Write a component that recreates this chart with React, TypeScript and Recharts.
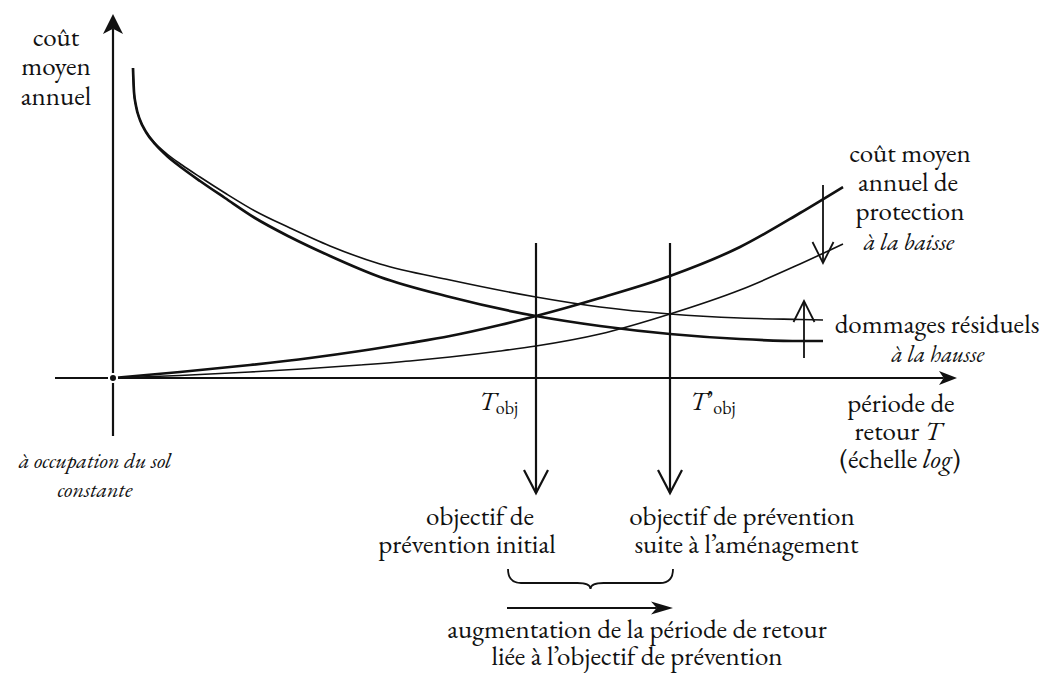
import React from 'react';
import { ComposedChart, Line, XAxis, YAxis, ReferenceLine, ReferenceDot } from 'recharts';

// Conceptual units: x = return period T (log scale), y = mean annual cost.
// Residual damages (decreasing with T)
const damageX = [2.0, 2.1, 2.3, 2.7, 3.3, 4.2, 5.4, 6.9, 8.7, 11.2, 14.2, 17.7, 21.7, 26.7, 33.7, 42.3, 48.7, 55.7, 62.7, 68.7, 71.0];
const damageInitial = [31.0, 28.6, 27.2, 25.8, 24.6, 23.4, 22.2, 21.0, 19.7, 18.0, 16.0, 14.1, 12.2, 10.1, 8.1, 6.2, 5.2, 4.4, 3.9, 3.7, 3.7];
const damageRaised = [31.0, 28.6, 27.2, 25.8, 24.6, 23.5, 22.4, 21.3, 20.1, 18.5, 16.7, 15.0, 13.2, 11.4, 9.8, 8.1, 7.1, 6.4, 6.0, 5.85, 5.8];
// Protection cost (increasing with T)
const protectionX = [0, 6.7, 13.7, 19.7, 24.7, 29.7, 33.7, 38.7, 42.3, 48.7, 55.7, 62.7, 68.7, 73.0];
const protectionInitial = [0, 0.6, 1.3, 2.0, 2.7, 3.5, 4.2, 5.3, 6.2, 8.0, 10.2, 13.1, 16.5, 19.1];
const protectionLowered = [0, 0.25, 0.6, 0.95, 1.3, 1.7, 2.1, 2.7, 3.2, 4.4, 6.4, 8.8, 11.4, 13.4];

// Objectives (return periods)
const T_OBJ = 42.3;
const T_OBJ_NEW = 55.7;

const X_DOMAIN: [number, number] = [-11.3, 93.1];
const Y_DOMAIN: [number, number] = [-29.7, 37.8];

const FONT = '"EB Garamond"';
const INK = '#111';

const toPts = (xs: number[], ys: number[]) => xs.map((x, i) => ({ x, y: ys[i] }));

type Part = { t: string; italic?: boolean; sub?: boolean };
type Label = { x: number; y: number; parts: Part[]; anchor?: 'start' | 'middle' | 'end'; size?: number };

const UP = 27;
const IT = 23;

const labels: Label[] = [
  { x: -5.7, y: 33.2, parts: [{ t: 'coût' }] },
  { x: -5.7, y: 30.3, parts: [{ t: 'moyen' }] },
  { x: -5.7, y: 27.3, parts: [{ t: 'annuel' }] },
  { x: 79.7, y: 21.6, parts: [{ t: 'coût moyen' }] },
  { x: 79.5, y: 18.7, parts: [{ t: 'annuel de' }] },
  { x: 79.7, y: 15.8, parts: [{ t: 'protection' }] },
  { x: 79.6, y: 12.8, parts: [{ t: 'à la baisse', italic: true }], size: 24 },
  { x: 82.4, y: 4.5, parts: [{ t: 'dommages résiduels' }] },
  { x: 82.5, y: 1.6, parts: [{ t: 'à la hausse', italic: true }], size: IT },
  { x: 78.8, y: -3.4, parts: [{ t: 'période de' }] },
  { x: 78.5, y: -6.2, parts: [{ t: 'retour ' }, { t: 'T', italic: true }] },
  { x: 78.7, y: -9.0, parts: [{ t: '(échelle ' }, { t: 'log', italic: true }, { t: ')' }] },
  { x: 36.6, y: -3.2, parts: [{ t: 'T', italic: true }, { t: 'obj', sub: true }], anchor: 'start' },
  { x: 57.7, y: -3.2, parts: [{ t: 'T', italic: true }, { t: '’' }, { t: 'obj', sub: true }], anchor: 'start' },
  { x: 36.7, y: -14.7, parts: [{ t: 'objectif de' }] },
  { x: 35.4, y: -17.5, parts: [{ t: 'prévention initial' }] },
  { x: 62.9, y: -14.7, parts: [{ t: 'objectif de prévention' }] },
  { x: 63.35, y: -17.5, parts: [{ t: 'suite à l’aménagement' }] },
  { x: 52.4, y: -26.0, parts: [{ t: 'augmentation de la période de retour' }] },
  { x: 52.4, y: -28.7, parts: [{ t: 'liée à l’objectif de prévention' }] },
  { x: -1.8, y: -9.0, parts: [{ t: 'à occupation du sol', italic: true }], size: 22 },
  { x: -1.8, y: -11.9, parts: [{ t: 'constante', italic: true }], size: 22 },
];

const labelShape = (lab: Label) => (props: any) => {
  const { cx, cy } = props;
  const size = lab.size ?? UP;
  return (
    <text
      x={cx}
      y={cy}
      textAnchor={lab.anchor ?? 'middle'}
      fontFamily={FONT}
      style={{ fontFamily: FONT, fontSize: size }}
      fill={INK}
    >
      {lab.parts.map((p, i) => (
        <tspan
          key={i}
          style={{
            fontFamily: FONT,
            fontStyle: p.italic ? 'italic' : 'normal',
            fontSize: p.sub ? 18 : size,
          }}
          dy={p.sub ? 4 : undefined}
        >
          {p.t}
        </tspan>
      ))}
    </text>
  );
};

type Head = 'open' | 'solid';
const arrowShape = (head: Head, len: number, half: number, width: number) => (props: any) => {
  const { x1, y1, x2, y2 } = props;
  const dx = x2 - x1;
  const dy = y2 - y1;
  const L = Math.hypot(dx, dy) || 1;
  const ux = dx / L;
  const uy = dy / L;
  const px = -uy;
  const py = ux;
  const bx = x2 - ux * len;
  const by = y2 - uy * len;
  if (head === 'open') {
    return (
      <g>
        <line x1={x1} y1={y1} x2={x2} y2={y2} stroke={INK} strokeWidth={width} />
        <path
          d={`M${bx + px * half},${by + py * half} L${x2},${y2} L${bx - px * half},${by - py * half}`}
          fill="none"
          stroke={INK}
          strokeWidth={width}
          strokeLinejoin="miter"
        />
      </g>
    );
  }
  const nx = x2 - ux * len * 0.74;
  const ny = y2 - uy * len * 0.74;
  return (
    <g>
      <line x1={x1} y1={y1} x2={nx} y2={ny} stroke={INK} strokeWidth={width} />
      <path
        d={`M${x2},${y2} L${bx + px * half},${by + py * half} L${nx},${ny} L${bx - px * half},${by - py * half} Z`}
        fill={INK}
        stroke="none"
      />
    </g>
  );
};

const braceShape = (props: any) => {
  const { x1, y1, x2 } = props;
  const xm = (x1 + x2) / 2;
  const d = 14;
  const r = 13;
  const path = `M${x1},${y1} Q${x1},${y1 + d} ${x1 + r},${y1 + d} L${xm - r},${y1 + d} Q${xm},${y1 + d} ${xm},${y1 + d + 6} Q${xm},${y1 + d} ${xm + r},${y1 + d} L${x2 - r},${y1 + d} Q${x2},${y1 + d} ${x2},${y1}`;
  return <path d={path} fill="none" stroke={INK} strokeWidth={1.8} />;
};

type Arrow = { from: [number, number]; to: [number, number]; head: Head; len: number; half: number; width: number };

const arrows: Arrow[] = [
  // axes
  { from: [0, -5.8], to: [0, 36.4], head: 'solid', len: 20, half: 10, width: 2.2 },
  { from: [-5.8, 0], to: [84.4, 0], head: 'solid', len: 18, half: 7, width: 2.2 },
  // objectives
  { from: [T_OBJ, 13.5], to: [T_OBJ, -11.5], head: 'open', len: 23, half: 12, width: 2.2 },
  { from: [T_OBJ_NEW, 13.5], to: [T_OBJ_NEW, -11.5], head: 'open', len: 23, half: 12, width: 2.2 },
  // shifts
  { from: [71.0, 19.3], to: [71.0, 11.5], head: 'open', len: 21, half: 10.5, width: 1.8 },
  { from: [69.1, 2.0], to: [69.1, 7.7], head: 'open', len: 21, half: 10.5, width: 1.8 },
  // increase of return period
  { from: [39.4, -23.0], to: [56.0, -23.0], head: 'solid', len: 22, half: 6.5, width: 2.2 },
];

export default function App() {
  return (
    <div style={{ position: 'absolute', left: 0, top: 0, width: 1044, height: 675, background: '#fff' }}>
      <ComposedChart width={1044} height={675} margin={{ top: 0, right: 0, bottom: 0, left: 0 }}>
        <XAxis dataKey="x" type="number" domain={X_DOMAIN} allowDataOverflow hide />
        <YAxis type="number" domain={Y_DOMAIN} allowDataOverflow hide />
        {arrows.map((a, i) => (
          <ReferenceLine
            key={`a${i}`}
            segment={[{ x: a.from[0], y: a.from[1] }, { x: a.to[0], y: a.to[1] }]}
            ifOverflow="visible"
            shape={arrowShape(a.head, a.len, a.half, a.width)}
          />
        ))}
        <ReferenceLine
          segment={[{ x: 39.5, y: -19.1 }, { x: 56.0, y: -19.1 }]}
          ifOverflow="visible"
          shape={braceShape}
        />
        <Line data={toPts(damageX, damageInitial)} dataKey="y" type="monotone" dot={false} stroke={INK} strokeWidth={2.7} isAnimationActive={false} />
        <Line data={toPts(damageX, damageRaised)} dataKey="y" type="monotone" dot={false} stroke={INK} strokeWidth={1.6} isAnimationActive={false} />
        <Line data={toPts(protectionX, protectionInitial)} dataKey="y" type="monotone" dot={false} stroke={INK} strokeWidth={2.7} isAnimationActive={false} />
        <Line data={toPts(protectionX, protectionLowered)} dataKey="y" type="monotone" dot={false} stroke={INK} strokeWidth={1.6} isAnimationActive={false} />
        {labels.map((lab, i) => (
          <ReferenceDot key={`l${i}`} x={lab.x} y={lab.y} r={0} ifOverflow="visible" shape={labelShape(lab)} />
        ))}
      </ComposedChart>
    </div>
  );
}
